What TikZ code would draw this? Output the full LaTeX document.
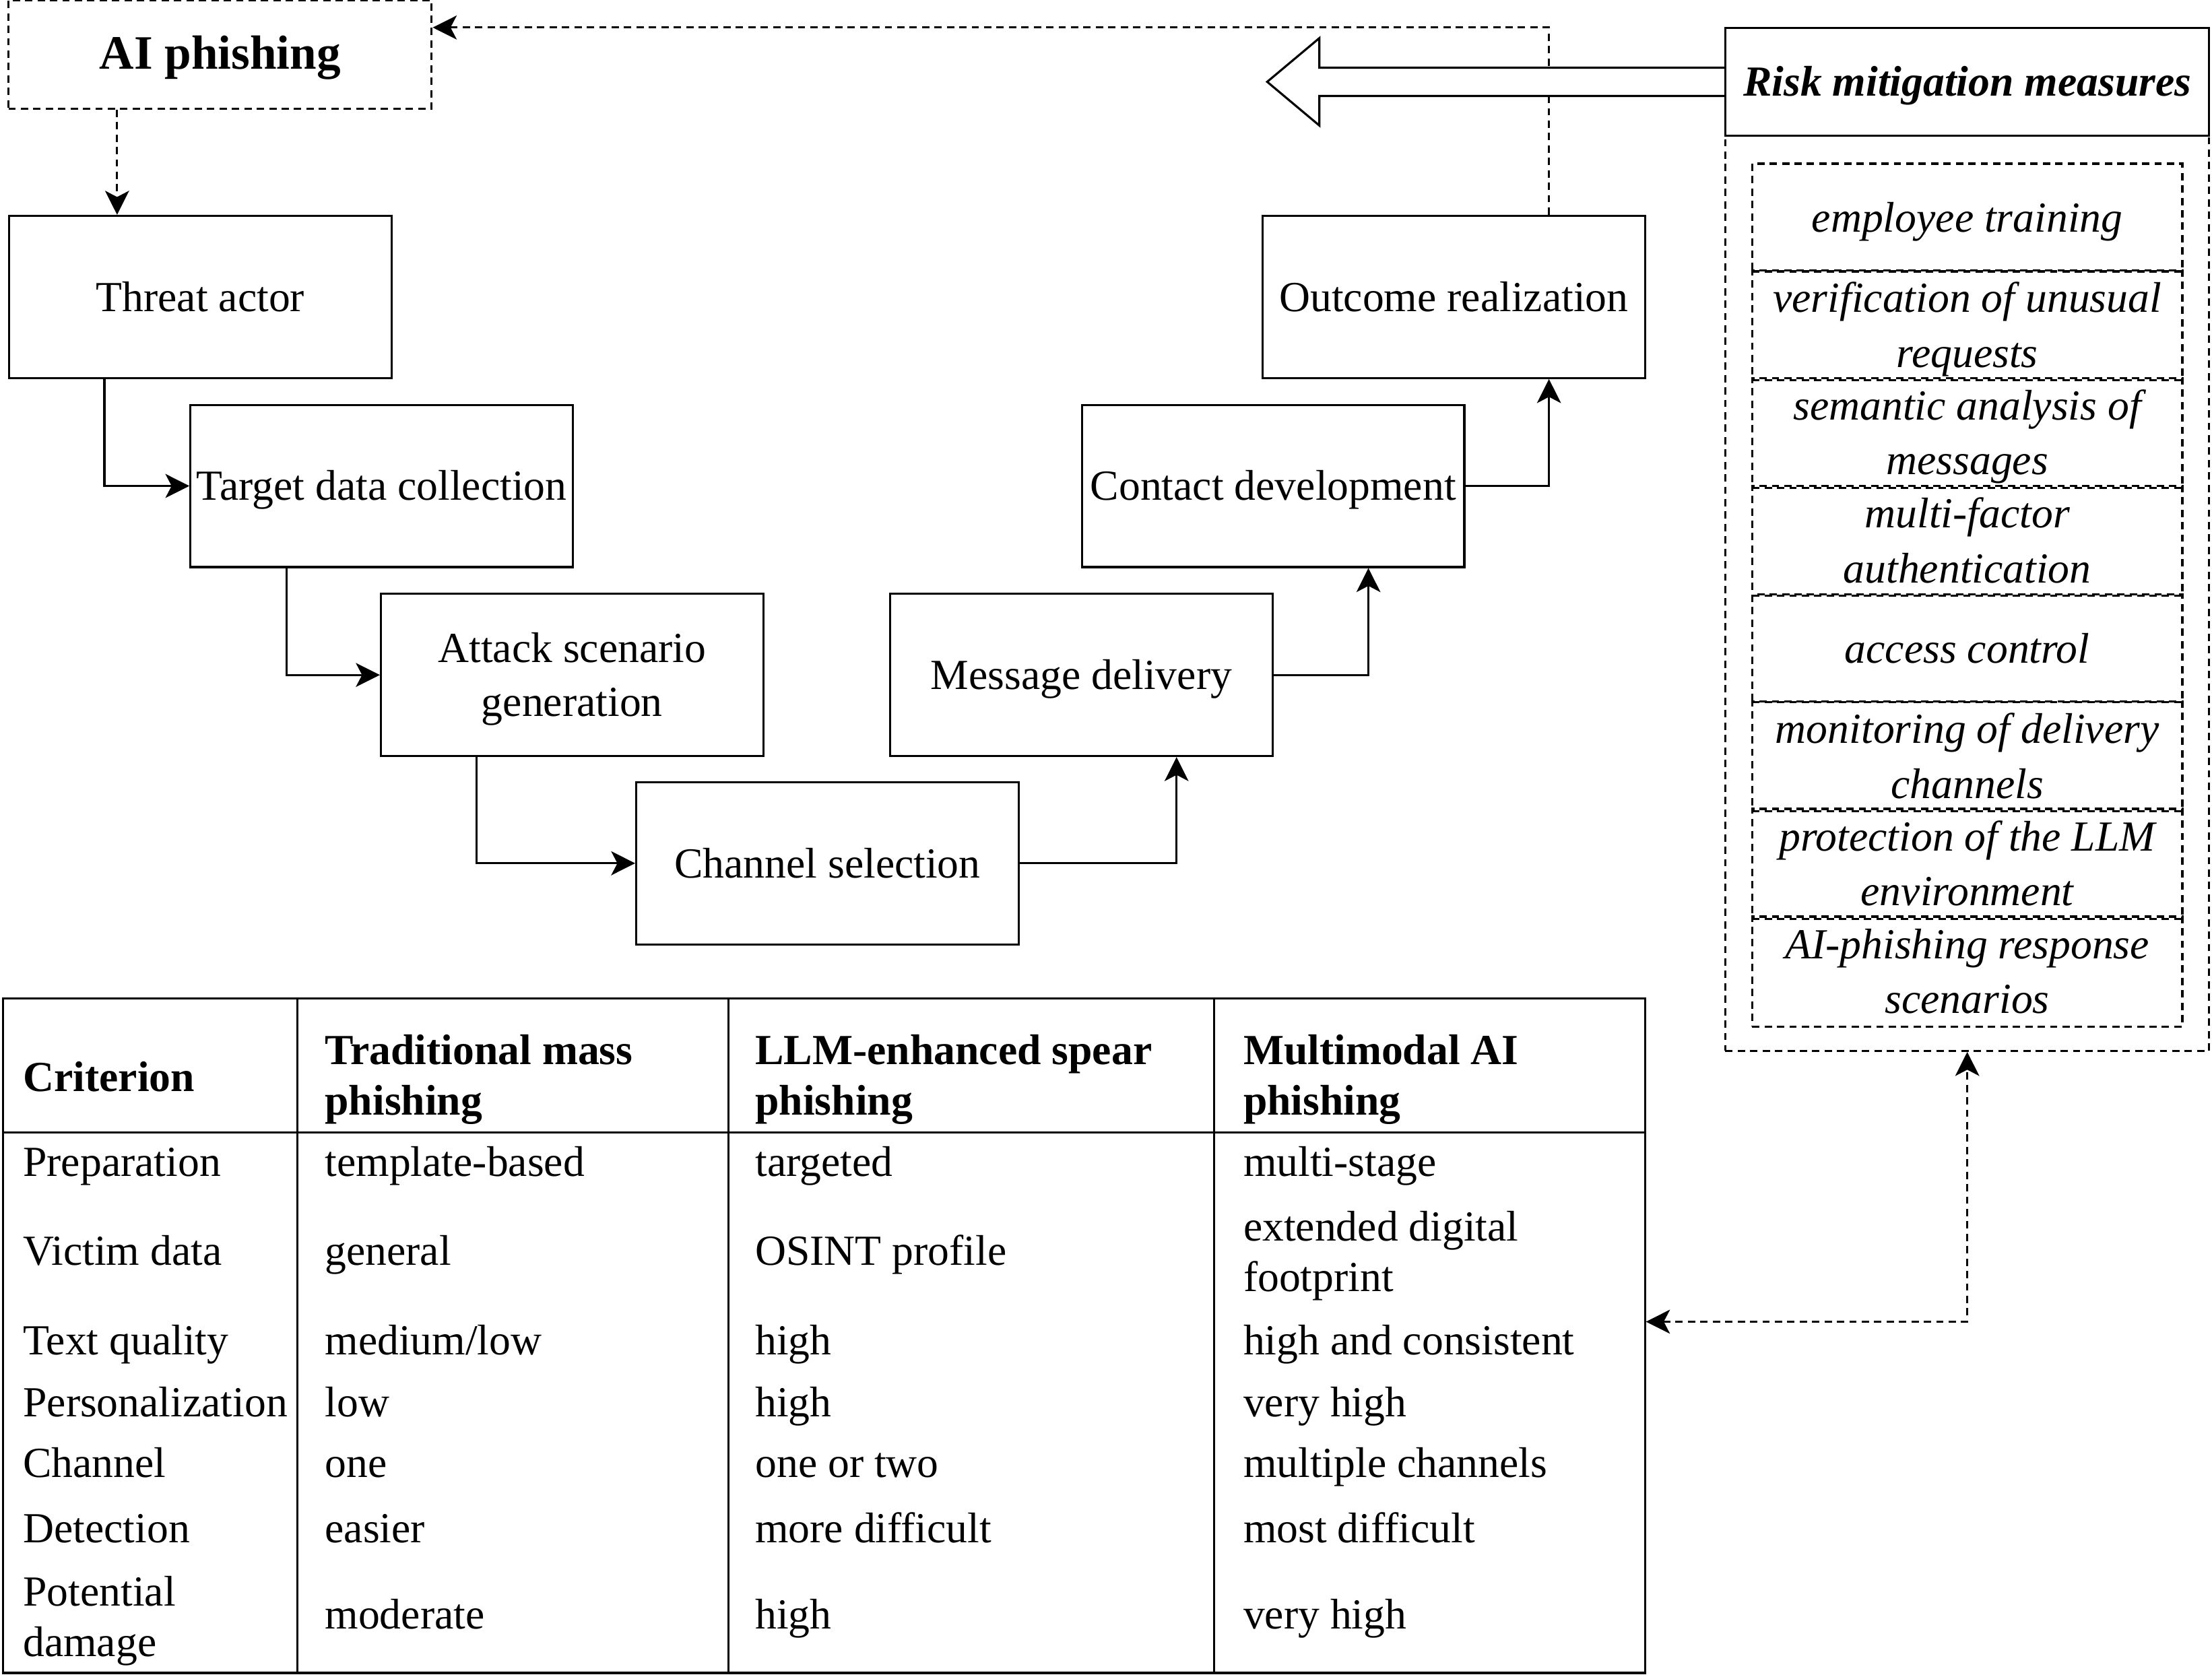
\documentclass[tikz,border=0pt]{standalone}
\usepackage{fontspec}
\setmainfont{Liberation Serif}
\usetikzlibrary{arrows.meta,calc}
\newcommand\fls{\rule[-4.4pt]{0pt}{19pt}}
\newcommand\cls{\rule[-4.65pt]{0pt}{19.5pt}}
\newcommand\tls{\rule[-4.5pt]{0pt}{18pt}}
\newcommand\hls{\rule[-4.5pt]{0pt}{19.5pt}}
\begin{document}
\begin{tikzpicture}[x=0.5pt,y=-0.5pt,
  lw/.style={line width=0.75pt},
  dsh/.style={dash pattern=on 2.6pt off 1.8pt},
  conn/.style={lw,-{Stealth[length=8.5pt,width=8.5pt,inset=2.2pt]}},
  dconn/.style={lw,dsh,-{Stealth[length=8.5pt,width=8.5pt,inset=2.2pt]}},
  flowbox/.style={draw,lw,minimum width=135.5pt,minimum height=57.5pt,inner sep=0pt,align=center,font=\fontsize{15.2pt}{19pt}\selectfont},
  cellbox/.style={draw,lw,dsh,minimum width=152.5pt,minimum height=38.19pt,inner sep=0pt,align=center,font=\fontsize{15.2pt}{19.5pt}\selectfont\itshape},
  tt/.style={anchor=west,inner sep=0pt,align=left,font=\fontsize{15.2pt}{18pt}\selectfont},
  hd/.style={tt,font=\fontsize{15.2pt}{18pt}\selectfont\bfseries}
]
\useasboundingbox (0,0) rectangle (1568,1190);

% AI phishing
\node[draw,lw,dsh,minimum width=150pt,minimum height=38.5pt,inner sep=0pt,font=\fontsize{17pt}{20pt}\selectfont\bfseries] (ai) at (156,38.5) {\hls AI phishing};

% flow boxes
\node[flowbox] (ta)  at (142,210.5)   {\fls Threat actor};
\node[flowbox] (tdc) at (270.5,344.5) {\fls Target data collection};
\node[flowbox] (asg) at (405.5,478.5) {\fls Attack scenario\\\fls generation};
\node[flowbox] (cs)  at (586.5,612)   {\fls Channel selection};
\node[flowbox] (md)  at (766.5,478.5) {\fls Message delivery};
\node[flowbox] (cd)  at (902.5,344.5) {\fls Contact development};
\node[flowbox] (oc)  at (1030.5,210.5){\fls Outcome realization};

% flow connectors
\draw[conn] ($(ta.south)+(-68,0)$) |- (tdc.west);
\draw[conn] ($(tdc.south)+(-67.5,0)$) |- (asg.west);
\draw[conn] ($(asg.south)+(-67.5,0)$) |- (cs.west);
\draw[conn] (cs.east) -| ($(md.south)+(67.5,0)$);
\draw[conn] (md.east) -| ($(cd.south)+(67.5,0)$);
\draw[conn] (cd.east) -| ($(oc.south)+(67.5,0)$);

% dashed connectors
\coordinate (axl) at (83,0);
\draw[dconn] (ai.south -| axl) -- (ta.north -| axl);
\draw[dconn] ($(oc.north)+(67.5,0)$) |- ($(ai.east)+(0,-19)$);

% mitigation panel
\node[draw,lw,dsh,minimum width=171.5pt,minimum height=324.5pt,inner sep=0pt] (mit) at (1394.5,420.5) {};
\node[draw,lw,fill=white,minimum width=171.5pt,minimum height=38pt,inner sep=0pt,font=\fontsize{15.2pt}{19pt}\selectfont\bfseries\itshape] (risk) at (1394.5,58) {\fls Risk mitigation measures};

\node[cellbox] (c1) at (1394.5,154.2) {\cls employee training};
\node[cellbox] (c2) at (1394.5,230.6) {\cls verification of unusual\\\cls requests};
\node[cellbox] (c3) at (1394.5,306.9) {\cls semantic analysis of\\\cls messages};
\node[cellbox] (c4) at (1394.5,383.3) {\cls multi-factor\\\cls authentication};
\node[cellbox] (c5) at (1394.5,459.7) {\cls access control};
\node[cellbox] (c6) at (1394.5,536.1) {\cls monitoring of delivery\\\cls channels};
\node[cellbox] (c7) at (1394.5,612.4) {\cls protection of the LLM\\\cls environment};
\node[cellbox] (c8) at (1394.5,688.8) {\cls AI-phishing response\\\cls scenarios};

% hollow arrow
\draw[lw,fill=white,line join=miter] ($(risk.west)+(0,-10)$) -- ($(risk.west)+(-287,-10)$) -- ($(risk.west)+(-287,-31)$) -- ($(risk.west)+(-324,0)$) -- ($(risk.west)+(-287,31)$) -- ($(risk.west)+(-287,10)$) -- ($(risk.west)+(0,10)$);

% table
\node[draw,lw,minimum width=582pt,minimum height=239pt,inner sep=0pt] (tbl) at (584,947) {};
\draw[lw] (211,708) -- (211,1186);
\draw[lw] (516.5,708) -- (516.5,1186);
\draw[lw] (860.5,708) -- (860.5,1186);
\draw[lw] (2,803) -- (1166,803);

\node[hd] (h1) at (16,764.5) {\tls Criterion};
\node[hd] (h2) at (230,763.5) {\tls Traditional mass\\\tls phishing};
\node[hd] (h3) at (535,763.5) {\tls LLM-enhanced spear\\\tls phishing};
\node[hd] (h4) at (881,763.5) {\tls Multimodal AI\\\tls phishing};

\node[tt] (r1a) at (16,825) {\tls Preparation};
\node[tt] (r1b) at (230,825) {\tls template-based};
\node[tt] (r1c) at (535,825) {\tls targeted};
\node[tt] (r1d) at (881,825) {\tls multi-stage};

\node[tt] (r2a) at (16,887.8) {\tls Victim data};
\node[tt] (r2b) at (230,887.8) {\tls general};
\node[tt] (r2c) at (535,887.8) {\tls OSINT profile};
\node[tt] (r2d) at (881,888.6) {\tls extended digital\\\tls footprint};

\node[tt] (r3a) at (16,951.5) {\tls Text quality};
\node[tt] (r3b) at (230,951.5) {\tls medium/low};
\node[tt] (r3c) at (535,951.5) {\tls high};
\node[tt] (r3d) at (881,951.5) {\tls high and consistent};

\node[tt] (r4a) at (16,995.3) {\tls Personalization};
\node[tt] (r4b) at (230,995.3) {\tls low};
\node[tt] (r4c) at (535,995.3) {\tls high};
\node[tt] (r4d) at (881,995.3) {\tls very high};

\node[tt] (r5a) at (16,1038.5) {\tls Channel};
\node[tt] (r5b) at (230,1038.5) {\tls one};
\node[tt] (r5c) at (535,1038.5) {\tls one or two};
\node[tt] (r5d) at (881,1038.5) {\tls multiple channels};

\node[tt] (r6a) at (16,1084.4) {\tls Detection};
\node[tt] (r6b) at (230,1084.4) {\tls easier};
\node[tt] (r6c) at (535,1084.4) {\tls more difficult};
\node[tt] (r6d) at (881,1084.4) {\tls most difficult};

\node[tt] (r7a) at (16,1147.3) {\tls Potential\\\tls damage};
\node[tt] (r7b) at (230,1145.7) {\tls moderate};
\node[tt] (r7c) at (535,1145.7) {\tls high};
\node[tt] (r7d) at (881,1145.7) {\tls very high};

% table <-> mitigation
\draw[lw,dsh,{Stealth[length=8.5pt,width=8.5pt,inset=2.2pt]}-{Stealth[length=8.5pt,width=8.5pt,inset=2.2pt]}] ($(tbl.east)+(0,-10)$) -| (mit.south);
\end{tikzpicture}
\end{document}
